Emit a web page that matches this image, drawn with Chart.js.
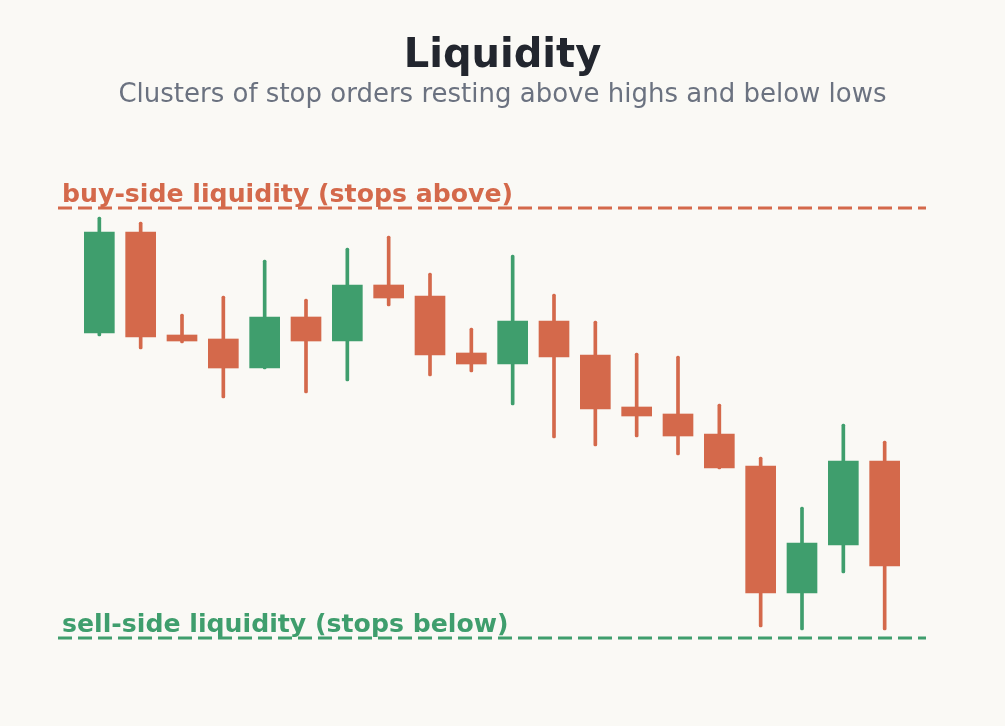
<!DOCTYPE html>
<html>
<head>
<meta charset="utf-8">
<script src="https://cdn.jsdelivr.net/npm/chart.js@4.4.1/dist/chart.umd.min.js"></script>
<style>
  html, body { margin: 0; padding: 0; background: #faf9f5; }
  #wrap { width: 1005px; height: 726px; position: relative; }
  #title, #subtitle { position: absolute; left: 0; width: 1005px; text-align: center; font-family: "DejaVu Sans", sans-serif; white-space: nowrap; }
  #title { top: 29px; font-size: 40px; line-height: 48px; font-weight: bold; color: #22262e; }
  #subtitle { top: 78px; font-size: 26px; line-height: 31px; font-weight: normal; color: #6b7280; }
  canvas { position: absolute; left: 0; top: 0; }
</style>
</head>
<body>
<div id="wrap">
  <canvas id="c" width="1005" height="726"></canvas>
  <div id="title"></div>
  <div id="subtitle"></div>
</div>
<script>
// ---- data ----
const openPrices  = [130.5, 140.6, 130.3, 129.9, 127.0, 132.1, 129.7, 135.3, 134.2, 128.5, 127.4, 131.7, 128.3, 123.1, 122.4, 120.4, 117.2, 104.5, 109.3, 117.7];
const highPrices  = [142.1, 141.6, 132.4, 134.2, 137.8, 133.9, 139.0, 140.2, 136.5, 131.0, 138.3, 134.4, 131.7, 128.5, 128.2, 123.4, 118.1, 113.1, 121.4, 119.7];
const lowPrices   = [130.2, 128.9, 129.5, 124.0, 126.9, 124.5, 125.7, 133.2, 126.2, 126.6, 123.3, 120.0, 119.2, 120.1, 118.3, 116.9, 101.1, 100.8, 106.5, 100.8];
const closePrices = [140.6, 130.1, 129.7, 127.0, 132.1, 129.7, 135.3, 134.0, 128.3, 127.4, 131.7, 128.1, 122.9, 122.2, 120.2, 117.0, 104.5, 109.5, 117.7, 107.2];
const buySideLevel = 143.0;
const sellSideLevel = 100.0;
const buySideLabel = 'buy-side liquidity (stops above)';
const sellSideLabel = 'sell-side liquidity (stops below)';
const titleText = 'Liquidity';
const subtitleText = 'Clusters of stop orders resting above highs and below lows';

document.getElementById('title').textContent = titleText;
document.getElementById('subtitle').textContent = subtitleText;

const GREEN = '#3f9e6d';
const RED = '#d4694b';

const candleColors = openPrices.map((o, i) => closePrices[i] >= o ? GREEN : RED);
const bodies = openPrices.map((o, i) => ({ x: i, y: [o, closePrices[i]] }));
const wicks = openPrices.map((o, i) => ({ x: i, y: [lowPrices[i], highPrices[i]] }));
const n = openPrices.length;

const labelPlugin = {
  id: 'levelLabels',
  afterDatasetsDraw(chart) {
    const { ctx, scales } = chart;
    const x0 = scales.x.getPixelForValue(-1) + 4;
    ctx.save();
    ctx.font = 'bold 25.2px "DejaVu Sans"';
    ctx.textAlign = 'left';
    ctx.textBaseline = 'alphabetic';
    ctx.fillStyle = RED;
    ctx.fillText(buySideLabel, x0, scales.y.getPixelForValue(buySideLevel) - 6);
    ctx.fillStyle = GREEN;
    ctx.fillText(sellSideLabel, x0, scales.y.getPixelForValue(sellSideLevel) - 6);
    ctx.restore();
  }
};

new Chart(document.getElementById('c'), {
  type: 'bar',
  data: {
    datasets: [
      {
        type: 'bar', label: 'body', data: bodies,
        backgroundColor: candleColors, borderWidth: 0,
        barThickness: 30, grouped: false, order: 0
      },
      {
        type: 'bar', label: 'wick', data: wicks,
        backgroundColor: candleColors, borderWidth: 0,
        barThickness: 3, grouped: false, order: 1, borderRadius: 1.5, borderSkipped: false
      },
      {
        type: 'line', label: 'buy-side', data: [{ x: -1, y: buySideLevel }, { x: n, y: buySideLevel }],
        borderColor: RED, borderWidth: 3, borderDash: [14, 6], pointRadius: 0, order: 2
      },
      {
        type: 'line', label: 'sell-side', data: [{ x: -1, y: sellSideLevel }, { x: n, y: sellSideLevel }],
        borderColor: GREEN, borderWidth: 3, borderDash: [14, 6], pointRadius: 0, order: 2
      }
    ]
  },
  options: {
    responsive: false,
    animation: false,
    layout: { padding: { left: 58, right: 79, top: 188, bottom: 38 } },
    scales: {
      x: { type: 'linear', min: -1, max: n, offset: false, display: false },
      y: { type: 'linear', min: 95, max: 145, display: false }
    },
    plugins: {
      legend: { display: false },
      tooltip: { enabled: false },
      title: { display: false },
      subtitle: { display: false }
    }
  },
  plugins: [labelPlugin]
});
</script>
</body>
</html>
